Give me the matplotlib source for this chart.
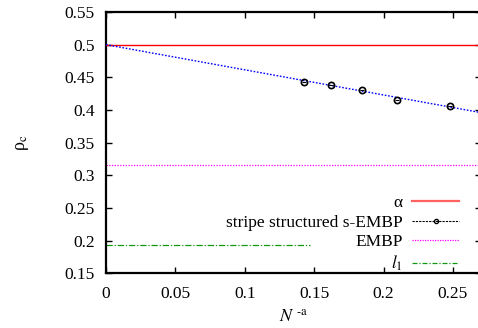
import matplotlib
matplotlib.use("Agg")
import matplotlib.pyplot as plt
from matplotlib.lines import Line2D
import numpy as np

plt.rcParams['font.family'] = ['Liberation Serif', 'DejaVu Serif']
plt.rcParams['mathtext.fontset'] = 'stix'

# data
x_pts = [0.1427, 0.1621, 0.1844, 0.2094, 0.2478]
y_pts = [0.4433, 0.4387, 0.4302, 0.4159, 0.4055]
alpha_val = 0.5
fit_intercept = 0.5
fit_slope = -0.385
embp_val = 0.3157
l1_val = 0.1933
l1_xmax = 0.147
xticks = [0, 0.05, 0.1, 0.15, 0.2, 0.25]
xticklabels = ['0', '0.05', '0.1', '0.15', '0.2', '0.25']
yticks = [0.15, 0.2, 0.25, 0.3, 0.35, 0.4, 0.45, 0.5, 0.55]
yticklabels = ['0.15', '0.2', '0.25', '0.3', '0.35', '0.4', '0.45', '0.5', '0.55']

fig = plt.figure(figsize=(4.78, 3.28), dpi=100)
ax = fig.add_axes([106/478, 1-273.3/328, (480.7-106)/478, (273.3-12)/328])
ax.set_xlim(0, 0.27)
ax.set_ylim(0.15, 0.55)

xs = np.array([0, 0.27])
ax.plot(xs, [alpha_val, alpha_val], color='red', lw=1.0, zorder=3)
ax.plot(xs, fit_intercept + fit_slope * xs, color='blue', lw=1.0, ls=(0, (1.2, 1.2)), zorder=3)
ax.plot(xs, [embp_val, embp_val], color='#ff00ff', lw=0.9, ls=(0, (1, 1.2)), zorder=2)
ax.plot([0, l1_xmax], [l1_val, l1_val], color='#119911', lw=0.9, ls=(0, (5, 1.5, 1, 1.5)), zorder=2)
ax.plot(x_pts, y_pts, ls='none', marker='o', ms=4.5, mfc='none', mec='black', mew=1.2, zorder=4)
ax.plot(x_pts, y_pts, ls='none', marker='_', ms=3, mec='black', mew=0.8, zorder=4)

handles = [
    Line2D([], [], color='#ff6060', lw=1.6),
    Line2D([], [], color='black', lw=0.8, ls=(0, (2, 1)), marker='o', ms=3, mfc='none', mec='black'),
    Line2D([], [], color='#ff00ff', lw=0.9, ls=(0, (1, 1))),
    Line2D([], [], color='#119911', lw=0.9, ls=(0, (4, 1.5, 1, 1.5))),
]
labels = ['α', 'stripe structured s-EMBP', 'EMBP', r'$l_1$']
leg = ax.legend(handles, labels, loc='lower right', bbox_to_anchor=(0.942, 0.0),
                frameon=False, markerfirst=False, fontsize=12.5, handlelength=2.7,
                handletextpad=0.55, labelspacing=0.2, borderpad=0.0, borderaxespad=0.0)

ax.set_xticks(xticks)
ax.set_xticklabels(xticklabels)
ax.set_yticks(yticks)
ax.set_yticklabels(yticklabels)
ax.tick_params(direction='in', top=True, right=True, length=4, width=1.0, labelsize=12.5)
ax.tick_params(axis='y', pad=8)
ax.tick_params(axis='x', pad=9)
for s in ax.spines.values():
    s.set_linewidth(1.6)

ax.set_xlabel(r'$N^{\ \mathrm{‐a}}$', fontsize=13, labelpad=5)
ax.set_ylabel('ρ$_\\mathrm{c}$', fontsize=13, labelpad=24)

fig.savefig('out.png', dpi=100)
